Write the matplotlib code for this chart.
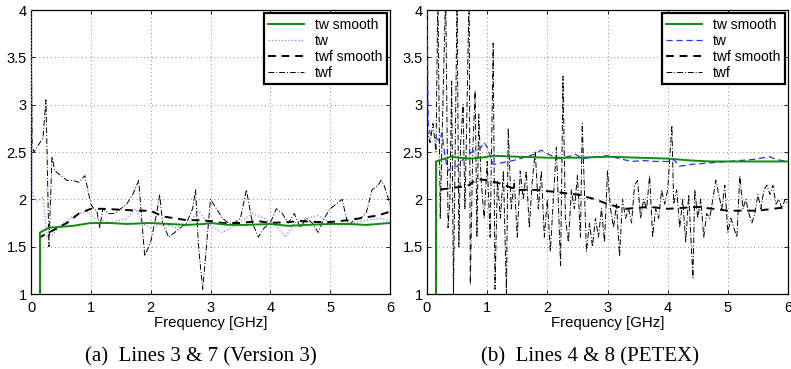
import matplotlib
matplotlib.use("Agg")
import matplotlib.pyplot as plt

plt.rcParams['font.family'] = ['Liberation Sans', 'DejaVu Sans']

# ---------------- Panel (a) data ----------------
a_tws_x = [0.15, 0.15, 0.3, 0.5, 0.7, 1.0, 1.3, 1.6, 2.0, 2.3, 2.6, 2.9, 3.0, 3.3, 3.6, 4.0, 4.3, 4.6, 5.0, 5.3, 5.6, 6.0]
a_tws_y = [1.0, 1.65, 1.70, 1.71, 1.72, 1.75, 1.75, 1.74, 1.75, 1.74, 1.73, 1.74, 1.75, 1.73, 1.73, 1.74, 1.72, 1.73, 1.74, 1.74, 1.73, 1.75]

a_tw_x = [0.0, 0.02, 0.05, 0.1, 0.15, 0.2, 0.27, 0.35, 0.45, 0.55, 0.65, 0.8, 0.95, 1.05, 1.15, 1.3, 1.5, 1.6, 1.75, 1.85, 2.0, 2.2, 2.4, 2.6, 2.8, 2.95, 3.1, 3.2, 3.4, 3.7, 3.9, 4.0, 4.1, 4.25, 4.4, 4.6, 4.8, 5.0, 5.2, 5.4, 5.6, 5.85, 6.0]
a_tw_y = [4.0, 2.1, 2.0, 1.98, 2.0, 2.02, 1.6, 1.62, 1.7, 1.75, 1.8, 1.85, 1.87, 1.8, 1.8, 1.75, 1.78, 1.8, 1.9, 1.75, 1.7, 1.75, 1.7, 1.72, 1.88, 1.75, 1.68, 1.65, 1.72, 1.85, 1.8, 1.75, 1.72, 1.6, 1.75, 1.8, 1.83, 1.75, 1.72, 1.75, 1.78, 1.8, 1.77]

a_twfs_x = [0.15, 0.15, 0.3, 0.45, 0.6, 0.8, 1.0, 1.2, 1.5, 1.8, 2.0, 2.2, 2.4, 2.6, 2.8, 3.0, 3.2, 3.5, 3.8, 4.0, 4.3, 4.5, 4.8, 5.0, 5.3, 5.5, 5.8, 6.0]
a_twfs_y = [1.0, 1.6, 1.65, 1.7, 1.75, 1.85, 1.9, 1.9, 1.89, 1.88, 1.88, 1.82, 1.8, 1.78, 1.78, 1.77, 1.75, 1.75, 1.77, 1.75, 1.76, 1.77, 1.76, 1.76, 1.78, 1.8, 1.83, 1.87]

a_twf_x = [0.0, 0.02, 0.05, 0.1, 0.15, 0.2, 0.25, 0.3, 0.35, 0.4, 0.5, 0.6, 0.7, 0.8, 0.9, 1.0, 1.05, 1.1, 1.15, 1.2, 1.3, 1.4, 1.5, 1.6, 1.7, 1.8, 1.9, 2.0, 2.1, 2.15, 2.2, 2.3, 2.4, 2.5, 2.6, 2.7, 2.75, 2.8, 2.87, 3.0, 3.1, 3.2, 3.3, 3.4, 3.5, 3.6, 3.7, 3.8, 3.9, 4.0, 4.1, 4.2, 4.3, 4.4, 4.5, 4.6, 4.7, 4.8, 4.9, 5.0, 5.1, 5.2, 5.3, 5.4, 5.5, 5.6, 5.7, 5.8, 5.85, 5.9, 6.0]
a_twf_y = [4.0, 2.55, 2.5, 2.55, 2.6, 2.65, 3.05, 1.5, 2.45, 2.3, 2.25, 2.2, 2.2, 2.18, 2.25, 1.95, 1.9, 1.88, 1.7, 1.9, 1.85, 1.85, 1.9, 1.95, 2.05, 2.2, 1.4, 1.55, 1.85, 2.05, 1.75, 1.6, 1.65, 1.7, 1.75, 1.9, 2.1, 1.5, 1.05, 2.0, 1.9, 1.8, 1.75, 1.75, 1.8, 2.1, 1.75, 1.6, 1.7, 1.75, 1.9, 1.85, 1.75, 1.85, 1.7, 1.8, 1.75, 1.65, 1.8, 1.9, 1.95, 2.0, 1.72, 1.78, 1.8, 1.85, 2.1, 2.15, 2.2, 2.15, 1.95]

# ---------------- Panel (b) data ----------------
b_tws_x = [0.15, 0.15, 0.25, 0.4, 0.55, 0.7, 0.9, 1.1, 1.5, 2.0, 2.5, 3.0, 3.5, 4.0, 4.4, 4.7, 5.0, 5.5, 6.0]
b_tws_y = [1.0, 2.4, 2.42, 2.45, 2.44, 2.43, 2.44, 2.46, 2.45, 2.44, 2.44, 2.45, 2.44, 2.43, 2.41, 2.40, 2.40, 2.40, 2.40]

b_tw_x = [0.0, 0.02, 0.05, 0.1, 0.15, 0.2, 0.25, 0.3, 0.35, 0.4, 0.5, 0.6, 0.7, 0.8, 0.9, 0.95, 1.0, 1.1, 1.2, 1.35, 1.5, 1.65, 1.8, 1.9, 2.0, 2.2, 2.4, 2.45, 2.6, 2.8, 3.0, 3.2, 3.4, 3.6, 3.8, 4.0, 4.1, 4.2, 4.4, 4.6, 4.8, 5.0, 5.2, 5.4, 5.5, 5.7, 5.8, 6.0]
b_tw_y = [4.0, 2.8, 2.7, 2.65, 2.65, 2.62, 2.7, 2.45, 2.3, 2.33, 2.35, 2.42, 2.48, 2.52, 2.55, 2.6, 2.55, 2.37, 2.38, 2.4, 2.42, 2.45, 2.48, 2.52, 2.48, 2.43, 2.46, 2.48, 2.43, 2.45, 2.46, 2.43, 2.40, 2.41, 2.40, 2.40, 2.42, 2.35, 2.37, 2.38, 2.39, 2.40, 2.41, 2.42, 2.43, 2.45, 2.42, 2.40]

b_twfs_x = [0.15, 0.15, 0.2, 0.4, 0.55, 0.7, 0.8, 0.9, 1.0, 1.2, 1.5, 1.8, 2.1, 2.5, 2.8, 3.0, 3.3, 3.7, 4.0, 4.5, 5.0, 5.5, 6.0]
b_twfs_y = [1.0, 2.1, 2.1, 2.12, 2.13, 2.15, 2.2, 2.21, 2.2, 2.17, 2.1, 2.1, 2.08, 2.05, 2.0, 1.95, 1.9, 1.92, 1.9, 1.92, 1.88, 1.88, 1.92]

b_twf_x = [0.0, 0.05, 0.1, 0.15, 0.18, 0.22, 0.26, 0.31, 0.35, 0.38, 0.41, 0.44, 0.47, 0.5, 0.53, 0.56, 0.6, 0.63, 0.66, 0.7, 0.72, 0.76, 0.8, 0.83, 0.86, 0.9, 0.95, 1.0, 1.05, 1.1, 1.13, 1.17, 1.22, 1.27, 1.32, 1.35, 1.4, 1.45, 1.5, 1.55, 1.6, 1.65, 1.7, 1.75, 1.8, 1.85, 1.9, 1.95, 2.0, 2.05, 2.1, 2.15, 2.22, 2.26, 2.3, 2.35, 2.4, 2.45, 2.5, 2.55, 2.58, 2.65, 2.7, 2.75, 2.8, 2.85, 2.9, 2.95, 3.0, 3.05, 3.1, 3.15, 3.2, 3.25, 3.3, 3.35, 3.4, 3.45, 3.5, 3.55, 3.6, 3.65, 3.7, 3.75, 3.8, 3.85, 3.9, 3.95, 4.0, 4.07, 4.1, 4.15, 4.2, 4.25, 4.3, 4.35, 4.42, 4.45, 4.5, 4.55, 4.6, 4.65, 4.7, 4.75, 4.8, 4.85, 4.9, 4.95, 5.0, 5.05, 5.1, 5.15, 5.2, 5.25, 5.3, 5.35, 5.4, 5.45, 5.5, 5.55, 5.6, 5.65, 5.7, 5.75, 5.8, 5.85, 5.9, 5.95, 6.0]
b_twf_y = [2.75, 2.6, 2.8, 2.5, 4.2, 1.8, 2.9, 4.2, 1.7, 2.0, 3.25, 1.0, 2.6, 4.1, 1.5, 2.6, 3.0, 1.9, 2.8, 4.2, 1.1, 2.5, 3.15, 1.6, 2.9, 2.2, 1.8, 2.4, 1.6, 3.65, 1.05, 2.2, 1.8, 2.3, 1.0, 2.75, 1.9, 2.2, 1.6, 2.3, 2.0, 2.3, 1.7, 2.2, 2.5, 1.9, 2.3, 1.6, 2.0, 1.45, 2.0, 2.55, 1.3, 3.3, 1.8, 1.55, 2.1, 1.9, 2.25, 1.6, 2.8, 1.45, 1.75, 1.5, 1.8, 1.6, 1.9, 1.55, 2.3, 1.9, 1.7, 1.95, 1.4, 2.0, 1.8, 1.9, 1.75, 2.15, 2.2, 1.8, 2.0, 1.9, 2.25, 1.6, 1.9, 1.8, 2.1, 1.95, 2.1, 2.78, 1.95, 2.1, 1.7, 2.0, 1.55, 2.05, 1.17, 2.1, 1.8, 2.0, 1.6, 1.85, 1.8, 2.0, 2.2, 2.05, 1.9, 2.15, 1.65, 1.8, 1.7, 1.6, 2.25, 1.9, 2.0, 1.85, 1.75, 1.85, 2.05, 1.9, 2.1, 2.15, 2.05, 2.15, 1.95, 2.0, 1.9, 2.0, 1.95]

xticks = [0, 1, 2, 3, 4, 5, 6]
yticks = [1, 1.5, 2, 2.5, 3, 3.5, 4]
ytick_labels = ['1', '1.5', '2', '2.5', '3', '3.5', '4']
xlabel = 'Frequency [GHz]'
captions = ['(a)  Lines 3 & 7 (Version 3)', '(b)  Lines 4 & 8 (PETEX)']
legend_labels = ['tw smooth', 'tw', 'twf smooth', 'twf']

green = '#118a11'

fig = plt.figure(figsize=(7.91, 3.69), dpi=100)
ax1 = fig.add_axes([31/791, 1-294/369, (390-31)/791, (294-10)/369])
ax2 = fig.add_axes([427/791, 1-294/369, (788-427)/791, (294-10)/369])

def style(ax):
    ax.set_xlim(0, 6)
    ax.set_ylim(1, 4)
    ax.set_xticks(xticks)
    ax.set_yticks(yticks)
    ax.set_yticklabels(ytick_labels)
    ax.tick_params(direction='in', top=True, right=True, labelsize=10.5, length=3, width=0.6)
    ax.tick_params(axis='x', pad=5)
    ax.tick_params(axis='y', pad=3)
    ax.grid(True, linestyle=(0, (1, 3)), color='#888888', linewidth=0.7)
    for s in ax.spines.values():
        s.set_linewidth(0.9)
    ax.set_xlabel(xlabel, fontsize=10.8, labelpad=1)

# panel a
ax1.plot(a_twf_x, a_twf_y, color='black', linestyle='-.', linewidth=0.7, dashes=(6, 2, 1, 2), zorder=2)
ax1.plot(a_tw_x, a_tw_y, color='#8080ff', linestyle=':', linewidth=0.9, zorder=3)
ax1.plot(a_twfs_x, a_twfs_y, color='black', linestyle='--', linewidth=1.4, dashes=(4, 3), zorder=4)
ax1.plot(a_tws_x, a_tws_y, color=green, linestyle='-', linewidth=1.4, zorder=5)

# panel b
ax2.plot(b_twf_x, b_twf_y, color='black', linestyle='-.', linewidth=0.7, dashes=(6, 2, 1, 2), zorder=2)
ax2.plot(b_tw_x, b_tw_y, color='#2233ff', linestyle='--', linewidth=0.9, dashes=(5, 3), zorder=3)
ax2.plot(b_twfs_x, b_twfs_y, color='black', linestyle='--', linewidth=1.4, dashes=(4, 3), zorder=4)
ax2.plot(b_tws_x, b_tws_y, color=green, linestyle='-', linewidth=1.4, zorder=5)

for ax in (ax1, ax2):
    style(ax)
    lines = ax.get_lines()
    handles = [lines[3], lines[1], lines[2], lines[0]]
    leg = ax.legend(handles, legend_labels, loc='upper right', fontsize=10,
                    frameon=True, fancybox=False, framealpha=1, edgecolor='black',
                    borderpad=0.3, labelspacing=0.15, handlelength=2.6, handletextpad=0.8,
                    borderaxespad=0.25)
    leg.get_frame().set_linewidth(1.6)
    leg.set_zorder(10)

fig.text(201/791, 1-357/369, captions[0], ha='center', va='center', fontsize=15, family='Liberation Serif')
fig.text(590/791, 1-357/369, captions[1], ha='center', va='center', fontsize=15, family='Liberation Serif')

fig.savefig('out.png', dpi=100)
